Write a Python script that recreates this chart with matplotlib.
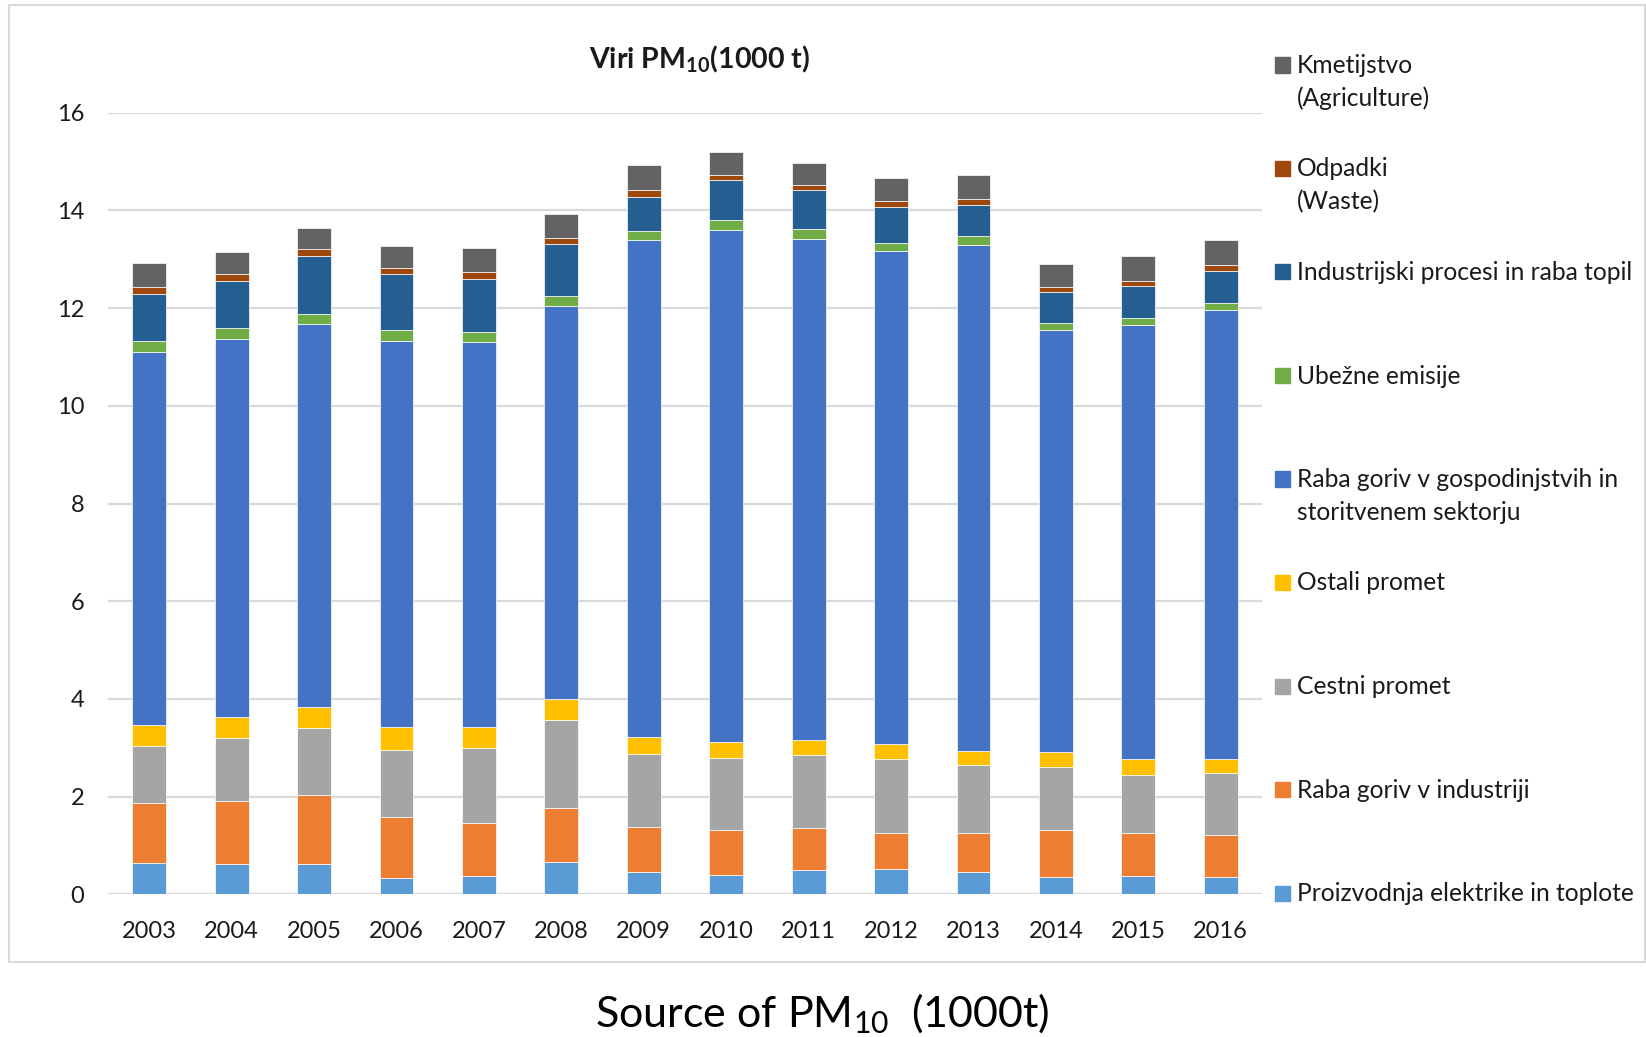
import matplotlib
matplotlib.use("Agg")
import matplotlib.pyplot as plt
from matplotlib.patches import Rectangle
import numpy as np

plt.rcParams['font.family'] = ['Lato', 'DejaVu Sans']
plt.rcParams['mathtext.fontset'] = 'custom'
plt.rcParams['mathtext.rm'] = 'Lato'
plt.rcParams['mathtext.bf'] = 'Lato:bold'

years = ['2003', '2004', '2005', '2006', '2007', '2008', '2009',
         '2010', '2011', '2012', '2013', '2014', '2015', '2016']

# stacked from the bottom up (1000 t)
elektrika = [0.65, 0.63, 0.63, 0.33, 0.37, 0.67, 0.46, 0.40, 0.50, 0.52, 0.45, 0.36, 0.37, 0.36]
industrija = [1.21, 1.28, 1.41, 1.25, 1.09, 1.10, 0.92, 0.92, 0.85, 0.74, 0.81, 0.95, 0.89, 0.85]
cestni = [1.17, 1.28, 1.36, 1.38, 1.53, 1.79, 1.49, 1.46, 1.50, 1.50, 1.38, 1.30, 1.19, 1.27]
ostali = [0.43, 0.44, 0.43, 0.47, 0.43, 0.44, 0.35, 0.33, 0.31, 0.32, 0.30, 0.30, 0.32, 0.29]
gospodinjstva = [7.64, 7.74, 7.85, 7.90, 7.89, 8.05, 10.17, 10.48, 10.26, 10.08, 10.36, 8.65, 8.89, 9.20]
ubezne = [0.22, 0.22, 0.19, 0.22, 0.20, 0.19, 0.19, 0.21, 0.19, 0.17, 0.17, 0.13, 0.13, 0.14]
procesi = [0.97, 0.97, 1.20, 1.15, 1.09, 1.07, 0.69, 0.83, 0.80, 0.74, 0.65, 0.63, 0.66, 0.64]
odpadki = [0.14, 0.13, 0.13, 0.13, 0.14, 0.13, 0.14, 0.10, 0.12, 0.12, 0.12, 0.12, 0.11, 0.13]
kmetijstvo = [0.49, 0.45, 0.44, 0.44, 0.50, 0.49, 0.51, 0.47, 0.44, 0.47, 0.48, 0.47, 0.50, 0.51]

series = [elektrika, industrija, cestni, ostali, gospodinjstva, ubezne, procesi, odpadki, kmetijstvo]
labels = ['Proizvodnja elektrike in toplote',
          'Raba goriv v industriji',
          'Cestni promet',
          'Ostali promet',
          'Raba goriv v gospodinjstvih in\nstoritvenem sektorju',
          'Ubežne emisije',
          'Industrijski procesi in raba topil',
          'Odpadki\n(Waste)',
          'Kmetijstvo\n(Agriculture)']
colors = ['#5B9BD5', '#ED7D31', '#A5A5A5', '#FFC000', '#4472C4',
          '#70AD47', '#255E91', '#9E480E', '#636363']

W, H = 1646, 1037
fig = plt.figure(figsize=(W / 100, H / 100), dpi=100)
ax = fig.add_axes([108 / W, 1 - 894.3 / H, (1262 - 108) / W, (894.3 - 112.7) / H])

x = np.arange(len(years))
bottom = np.zeros(len(years))
for vals, col in zip(series, colors):
    ax.bar(x, vals, width=0.41, bottom=bottom, color=col,
           edgecolor='#ffffff', linewidth=0.5, zorder=3)
    bottom += np.array(vals)

ax.set_xlim(-0.5, len(years) - 0.5)
ax.set_ylim(0, 16)
ax.set_yticks(range(0, 17, 2))
ax.set_xticks(x)
ax.set_xticklabels(years)
ax.tick_params(length=0, labelsize=17, colors='#1a1a1a')
ax.tick_params(axis='y', pad=17)
ax.tick_params(axis='x', pad=19)
ax.grid(axis='y', color='#D9D9D9', linewidth=1.6, zorder=0)
for s in ax.spines.values():
    s.set_visible(False)

# title
fig.text(700 / W, 1 - 59 / H, r'Viri PM$_{\mathbf{10}}$(1000 t)', ha='center', va='center',
         fontsize=20.5, fontweight='bold', color='#1a1a1a')

# legend drawn by hand, top entry is the last series
for i, k in enumerate(range(len(series) - 1, -1, -1)):
    yc = 65 + i * 103.5
    fig.patches.append(Rectangle((1275 / W, 1 - (yc + 7.5) / H), 15 / W, 15 / H,
                                 transform=fig.transFigure, color=colors[k]))
    for j, line in enumerate(labels[k].split('\n')):
        fig.text(1297 / W, 1 - (yc + 8 + j * 32.5) / H, line, ha='left', va='baseline',
                 fontsize=17.7, color='#1a1a1a')

# chart border
fig.patches.append(Rectangle((9 / W, 1 - 962 / H), (W - 10) / W, (962 - 5) / H,
                             transform=fig.transFigure, fill=False,
                             edgecolor='#D9D9D9', linewidth=1.5))

fig.text(822 / W, 1 - 1027 / H, r'Source of PM$_{10}$  (1000t)', ha='center', va='baseline',
         fontsize=31, color='#000000')

fig.savefig('out.png', dpi=100)
